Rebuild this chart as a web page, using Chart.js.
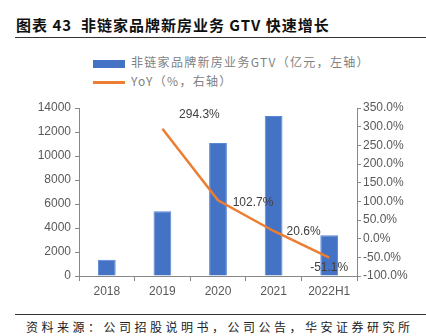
<!DOCTYPE html>
<html>
<head>
<meta charset="utf-8">
<script src="https://cdn.jsdelivr.net/npm/chart.js@4"></script>
<style>
  body { margin:0; width:426px; height:336px; background:#fff; position:relative; overflow:hidden; font-family:"Noto Sans CJK SC", sans-serif; }
  .title { position:absolute; left:16px; top:14px; font-size:15px; font-weight:bold; color:#111; letter-spacing:1px; }
  .rule { position:absolute; left:15px; right:0; height:1px; background:#333; }
  .legend { position:absolute; left:93px; font-size:12px; color:#7f7f7f; letter-spacing:1.3px; }
  .legend span { display:inline-block; vertical-align:middle; margin-right:6px; }
  .src { position:absolute; left:26px; top:318px; font-size:12px; color:#222; letter-spacing:3.5px; }
  #wrap { position:absolute; left:0; top:90px; width:426px; height:210px; }
</style>
</head>
<body>
<div class="title">图表 43&nbsp; 非链家品牌新房业务 GTV 快速增长</div>
<div class="rule" style="top:37px;"></div>
<div class="legend" style="top:53px;"><span style="width:32px;height:8px;background:#4472C4;"></span>非链家品牌新房业务GTV（亿元，左轴）</div>
<div class="legend" style="top:72px;"><span style="width:32px;height:3px;background:#ED7D31;"></span>YoY（%，右轴）</div>
<div id="wrap"><canvas id="chart"></canvas></div>
<div class="rule" style="top:314px;"></div>
<div class="src">资料来源：公司招股说明书，公司公告，华安证券研究所</div>
<script>
var categories = ['2018', '2019', '2020', '2021', '2022H1'];
var gtvValues = [1350, 5400, 11080, 13330, 3400];
var yoyValues = [null, 294.3, 102.7, 20.6, -51.1];
var leftTicks = [0, 2000, 4000, 6000, 8000, 10000, 12000, 14000];

// label offsets for yoy points (dx, dy)
var labelOffsets = [null, [37, -14], [35, 2], [30, 1], [0, 10]];

var yoyLabels = {
    id: 'yoyLabels',
    afterDatasetsDraw: function(chart) {
        var ctx = chart.ctx;
        var meta = chart.getDatasetMeta(1);
        ctx.save();
        ctx.font = '12px "Liberation Sans", Arial, sans-serif';
        ctx.fillStyle = '#404040';
        ctx.textAlign = 'center';
        ctx.textBaseline = 'middle';
        meta.data.forEach(function(pt, i) {
            if (yoyValues[i] === null) return;
            var off = labelOffsets[i];
            ctx.fillText(yoyValues[i].toFixed(1) + '%', pt.x + off[0], pt.y + off[1]);
        });
        ctx.restore();
    }
};

var axisGray = '#888888';
var tickFont = { family: '"Liberation Sans", Arial, sans-serif', size: 12 };

new Chart(document.getElementById('chart'), {
    type: 'bar',
    data: {
        labels: categories,
        datasets: [{
            type: 'bar',
            data: gtvValues,
            backgroundColor: '#4472C4',
            borderColor: '#5B86D6',
            borderWidth: 1,
            barPercentage: 0.32,
            categoryPercentage: 1,
            yAxisID: 'y',
            order: 2
        }, {
            type: 'line',
            data: yoyValues,
            borderColor: '#ED7D31',
            borderWidth: 2.5,
            pointRadius: 0,
            tension: 0,
            fill: false,
            yAxisID: 'y1',
            order: 1
        }]
    },
    options: {
        responsive: true,
        maintainAspectRatio: false,
        animation: false,
        layout: { padding: { top: 18, bottom: 0, left: 0, right: 0 } },
        plugins: { legend: { display: false }, tooltip: { enabled: false } },
        scales: {
            x: {
                offset: true,
                grid: { offset: true, drawOnChartArea: false, drawTicks: true, tickLength: 5, color: axisGray },
                border: { display: true, color: axisGray },
                ticks: { color: '#595959', font: tickFont, padding: 3 },
                afterFit: function(s) { s.height = 24; }
            },
            y: {
                position: 'left',
                min: 0, max: 14000,
                afterBuildTicks: function(s) { s.ticks = leftTicks.map(function(v) { return { value: v }; }); },
                grid: { drawOnChartArea: false, drawTicks: true, tickLength: 4, color: axisGray },
                border: { display: true, color: axisGray },
                ticks: { color: '#595959', font: tickFont, padding: 4,
                    callback: function(v) { return String(v); } },
                afterFit: function(s) { s.width = 79; }
            },
            y1: {
                position: 'right',
                min: -100, max: 350,
                ticks: { stepSize: 50, color: '#595959', font: tickFont, padding: 2,
                    callback: function(v) { return v.toFixed(1) + '%'; } },
                grid: { drawOnChartArea: false, drawTicks: true, tickLength: 4, color: axisGray },
                border: { display: true, color: axisGray },
                afterFit: function(s) { s.width = 69; }
            }
        }
    },
    plugins: [yoyLabels]
});
</script>
</body>
</html>
